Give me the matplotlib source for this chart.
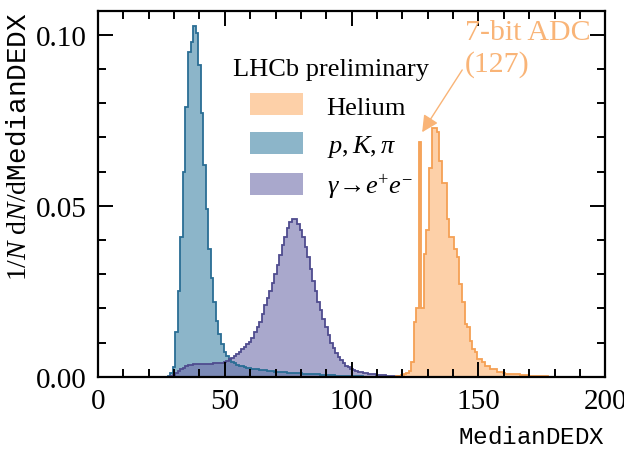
"""dE/dx distributions"""

import numpy as np
import matplotlib.pyplot as plt
from matplotlib.patches import Patch
from matplotlib.ticker import MultipleLocator

plt.rcParams['font.family'] = ['Liberation Serif', 'DejaVu Serif']
plt.rcParams['mathtext.fontset'] = 'custom'
plt.rcParams['mathtext.rm'] = 'Liberation Serif'
plt.rcParams['mathtext.it'] = 'Liberation Serif:italic'
plt.rcParams['mathtext.tt'] = 'Liberation Mono'
plt.rcParams['mathtext.fallback'] = 'stix'

# 每个直方图: 第一个 bin 的中心, 以及各 bin 的值 (bin 宽度为 1)
pkpi_start = 28
pkpi_vals = [0.0004, 0.0012, 0.003, 0.013, 0.025, 0.041, 0.060, 0.079, 0.095, 0.098,
             0.1026, 0.1005, 0.091, 0.077, 0.062, 0.049, 0.0375, 0.029, 0.022, 0.0164,
             0.0126, 0.0097, 0.0073, 0.006, 0.005, 0.0044, 0.004, 0.0036, 0.0033, 0.0031,
             0.0029, 0.0027, 0.0025, 0.0024, 0.0023, 0.0022, 0.0021, 0.0020, 0.0019, 0.0018,
             0.0017, 0.0016, 0.0015, 0.0015, 0.0014, 0.0013, 0.0013, 0.0012, 0.0012, 0.0011,
             0.0011, 0.0010, 0.0010, 0.0009, 0.0009, 0.0008, 0.0008, 0.0007, 0.0007, 0.0007,
             0.0006, 0.0006, 0.0006, 0.0005, 0.0005, 0.0005, 0.0004, 0.0004, 0.0004, 0.0004,
             0.0003, 0.0003, 0.0003, 0.0002, 0.0002, 0.0002, 0.0002, 0.0001, 0.0001, 0.0001,
             0.0001, 0.0001, 0.0001]

conv_start = 29
conv_vals = [0.0003, 0.0006, 0.001, 0.0016, 0.0022, 0.0027, 0.0031, 0.0034, 0.0036, 0.0038,
             0.0039, 0.0039, 0.0039, 0.0039, 0.0039, 0.0039, 0.0039, 0.004, 0.004, 0.0041,
             0.0042, 0.0044, 0.0047, 0.0051, 0.0055, 0.006, 0.0066, 0.0073, 0.008, 0.0088,
             0.0095, 0.0102, 0.0115, 0.013, 0.0145, 0.016, 0.0185, 0.021, 0.023, 0.025,
             0.0275, 0.030, 0.0328, 0.0355, 0.0385, 0.041, 0.0435, 0.0452, 0.046, 0.046,
             0.0448, 0.043, 0.041, 0.038, 0.035, 0.0315, 0.028, 0.025, 0.022, 0.0195,
             0.017, 0.0145, 0.0122, 0.010, 0.0083, 0.007, 0.0058, 0.0048, 0.004, 0.0033,
             0.0028, 0.0024, 0.002, 0.0018, 0.0015, 0.0013, 0.0011, 0.001, 0.0009, 0.0008,
             0.0007, 0.0006, 0.0006, 0.0005, 0.0005, 0.0004, 0.0004, 0.0003, 0.0003, 0.0002,
             0.0002, 0.0001]

helium_start = 118
helium_vals = [0.0003, 0.0004, 0.0005, 0.0008, 0.0012, 0.0018, 0.0044, 0.016, 0.020, 0.0686,
               0.020, 0.036, 0.043, 0.061, 0.0727, 0.0727, 0.0716, 0.063, 0.0566, 0.0566,
               0.046, 0.041, 0.041, 0.0375, 0.035, 0.027, 0.022, 0.0155, 0.0147, 0.0105,
               0.0082, 0.0073, 0.0053, 0.0053, 0.0044, 0.0032, 0.0032, 0.0023, 0.0023, 0.0023,
               0.0015, 0.0015, 0.0012, 0.0009, 0.0009, 0.0009, 0.0009, 0.0009, 0.0008, 0.0006,
               0.0005, 0.0005, 0.0004, 0.0004, 0.0003, 0.0003, 0.0003, 0.0002, 0.0002, 0.0002,
               0.0001, 0.0001, 0.0001]

labels = ['Helium', r'$p, K, \pi$', r'$\gamma\!\rightarrow\!e^{+}e^{-}$']
fill_colors = ['#fcb26e', '#3f84a5', '#716eaa']
edge_colors = ['#f5a054', '#2a6d94', '#4f4c8f']
fill_alpha = 0.6


def edges_from(start, vals):
    # bin 中心为整数, 边界在半整数处
    return np.arange(start - 0.5, start - 0.5 + len(vals) + 1, 1.0)


fig = plt.figure(figsize=(6.24, 4.52), dpi=100)
ax = fig.add_axes([0.157, 0.164, 0.813, 0.81])

series = [(helium_start, helium_vals), (pkpi_start, pkpi_vals), (conv_start, conv_vals)]
draw_order = [1, 2, 0]

# 填充
for i in draw_order:
    start, vals = series[i]
    ax.stairs(vals, edges_from(start, vals), fill=True,
              color=fill_colors[i], alpha=fill_alpha, linewidth=0)
# 轮廓
for i in draw_order:
    start, vals = series[i]
    ax.stairs(vals, edges_from(start, vals), fill=False,
              color=edge_colors[i], linewidth=1.3)

ax.set_xlim(0, 200)
ax.set_ylim(0, 0.107)
ax.xaxis.set_major_locator(MultipleLocator(50))
ax.xaxis.set_minor_locator(MultipleLocator(10))
ax.yaxis.set_major_locator(MultipleLocator(0.05))
ax.yaxis.set_minor_locator(MultipleLocator(0.01))
ax.tick_params(which='both', direction='in', top=True, right=True, width=1.4)
ax.tick_params(which='major', length=11, labelsize=21, pad=8)
ax.tick_params(which='minor', length=6)
for sp in ax.spines.values():
    sp.set_linewidth(1.6)

ax.set_xlabel(r'$\mathtt{MedianDEDX}$', fontsize=17.5, loc='right', labelpad=9)
ax.set_ylabel(r'$1/N\ \mathrm{d}N/\mathrm{d}\mathtt{MedianDEDX}$', fontsize=20,
              loc='top', labelpad=3)

handles = [Patch(facecolor=fill_colors[i], alpha=fill_alpha, edgecolor='none')
           for i in range(3)]
leg = ax.legend(handles, labels, title='LHCb preliminary', loc='upper left',
                bbox_to_anchor=(0.22, 0.935), frameon=False, fontsize=19,
                title_fontsize=19, handlelength=2.0, handleheight=0.9,
                labelspacing=0.5, handletextpad=0.9)

ax.text(144.5, 0.1045, '7-bit ADC\n(127)', color='#f9b477', fontsize=21.5,
        ha='left', va='top', linespacing=1.25)
ax.annotate('', xy=(127.8, 0.0715), xytext=(143.6, 0.0897),
            arrowprops=dict(arrowstyle='-|>,head_length=1.0,head_width=0.5',
                            color='#f9b477', lw=1.0, shrinkA=0, shrinkB=0))

fig.savefig('out.png', dpi=100)
